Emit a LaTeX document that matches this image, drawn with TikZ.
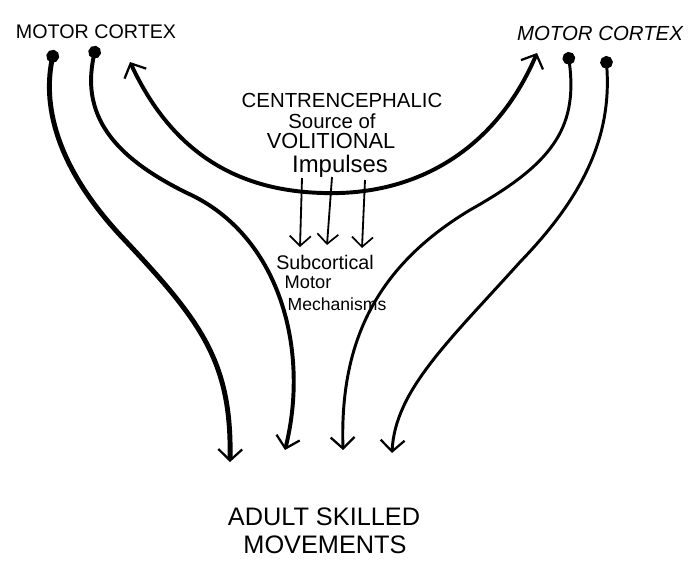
\documentclass[tikz,border=0pt]{standalone}
\usepackage{fontspec}
\setmainfont{Liberation Sans}
\usetikzlibrary{arrows.meta}

\begin{document}
\begin{tikzpicture}[
    x=0.025cm, y=-0.025cm,
    handtext/.style={inner sep=0pt, anchor=base},
    tract/.style={{Circle[length=9pt]}-{Straight Barb[length=8pt,width=17pt,line width=1.6pt]}},
    loopback/.style={{Straight Barb[length=8pt,width=17pt,line width=1.6pt]}-{Straight Barb[length=8pt,width=17pt,line width=1.6pt]}, line width=2.8pt},
    impulse/.style={-{Straight Barb[length=7pt,width=15pt,line width=1.2pt]}, line width=1.3pt}
]
\useasboundingbox (0,0) rectangle (695,561);

% labels
\node[handtext, font=\fontsize{14}{15}\selectfont] (cortexL) at (96,38) {MOTOR CORTEX};
\node[handtext, font=\fontsize{14.5}{15}\selectfont\itshape] (cortexR) at (600,40) {MOTOR CORTEX};
\node[handtext, font=\fontsize{14.5}{16}\selectfont] (centre) at (342,107) {CENTRENCEPHALIC};
\node[handtext, font=\fontsize{14.5}{16}\selectfont] (source) at (332,128) {Source of};
\node[handtext, font=\fontsize{15.5}{16}\selectfont] (volit) at (331,148) {VOLITIONAL};
\node[handtext, font=\fontsize{17}{18}\selectfont] (impul) at (340,172) {Impulses};
\node[handtext, font=\fontsize{14}{15}\selectfont] (subc) at (325,269) {Subcortical};
\node[handtext, font=\fontsize{13}{15}\selectfont] (motor) at (308,288) {Motor};
\node[handtext, font=\fontsize{12.5}{15}\selectfont] (mech) at (337,310) {Mechanisms};
\node[handtext, font=\fontsize{18}{20}\selectfont] (adult) at (324,525) {ADULT SKILLED};
\node[handtext, font=\fontsize{18}{20}\selectfont] (moves) at (325,553) {MOVEMENTS};

% end points
\coordinate (lsrc1) at (54,50);
\coordinate (lsrc2) at (96,46);
\coordinate (rsrc1) at (568,52);
\coordinate (rsrc2) at (606,56);
\coordinate (lhead) at (130,62);
\coordinate (rhead) at (537,53);
\coordinate (end1) at (230,462);
\coordinate (end2) at (285,450);
\coordinate (end3) at (343,450);
\coordinate (end4) at (392,453);
\coordinate (imp1s) at (302,178);
\coordinate (imp1e) at (300,247);
\coordinate (imp2s) at (332,177);
\coordinate (imp2e) at (327,245);
\coordinate (imp3s) at (365,180);
\coordinate (imp3e) at (362,248);

% descending tracts
\draw[tract, line width=3.5pt] (lsrc1) .. controls (42,110) and (60,170) .. (120,235)
    .. controls (200,320) and (232,360) .. (end1);
\draw[tract, line width=2.8pt] (lsrc2) .. controls (80,120) and (120,160) .. (187,193)
    .. controls (280,235) and (310,350) .. (end2);
\draw[tract, line width=2.1pt] (rsrc1) .. controls (578,130) and (550,165) .. (470,210)
    .. controls (370,270) and (340,350) .. (end3);
\draw[tract, line width=2.1pt] (rsrc2) .. controls (612,140) and (580,200) .. (520,262)
    .. controls (450,340) and (395,390) .. (end4);

% centrencephalic loop
\draw[loopback] (lhead) .. controls (180,170) and (260,195) .. (340,193)
    .. controls (430,190) and (500,140) .. (rhead);

% impulses down
\draw[impulse] (imp1s) -- (imp1e);
\draw[impulse] (imp2s) -- (imp2e);
\draw[impulse] (imp3s) -- (imp3e);
\end{tikzpicture}
\end{document}
